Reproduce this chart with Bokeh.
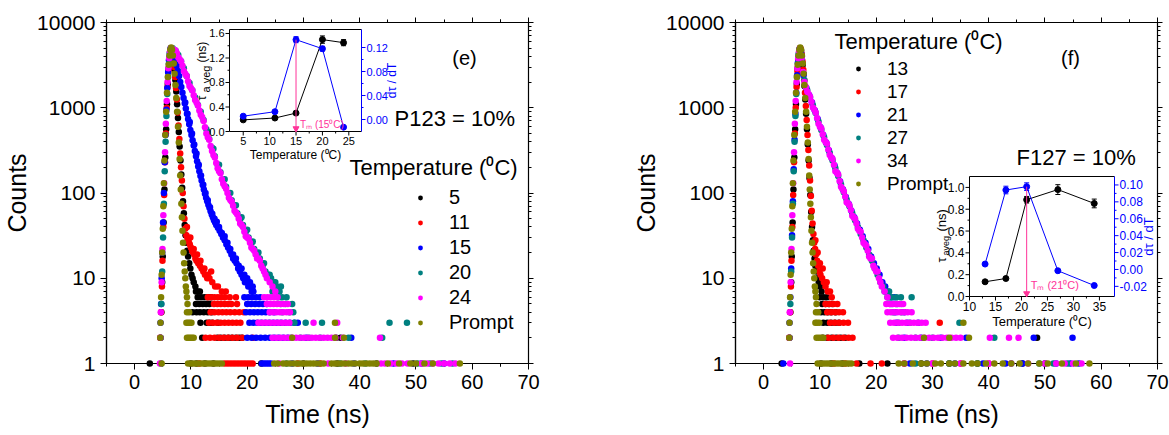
import math
from bokeh.plotting import figure
from bokeh.layouts import row
from bokeh.models import (Range1d, LinearScale, FixedTicker, PrintfTickFormatter,
                          CustomJSTickFormatter, LinearAxis, LogAxis, Legend, LegendItem,
                          Label, ColumnDataSource)
from bokeh.core.properties import value
from bokeh.embed import file_html
from bokeh.resources import INLINE

FONT = "Liberation Sans"

# ---------------- data ----------------
TIME_TICKS = [0, 10, 20, 30, 40, 50, 60, 70]
COUNT_TICKS = [1, 10, 100, 1000, 10000]
E_NAMES = ["5", "11", "15", "20", "24", "Prompt"]
F_NAMES = ["13", "17", "21", "27", "34", "Prompt"]
SERIES_COLORS = ["#000000", "#FF0000", "#0000FF", "#008080", "#FF00FF", "#808000"]

# (time ns, counts)
E_5 = [(2.7,1),(4.6,2),(4.75,4),(4.9,9),(5.0,18),(5.15,45),(5.3,110),(5.45,260),(5.6,560),(5.75,1100),(5.9,1900),(6.05,2900),(6.2,3900),(6.35,4700),(6.5,5000),(6.65,4800),(6.8,4200),(6.95,3500),(7.1,2800),(7.25,2100),(7.4,1550),(7.55,1100),(7.7,760),(7.85,520),(8.0,350),(8.15,240),(8.3,165),(8.45,115),(8.6,80),(8.75,58),(8.9,42),(9.05,32),(9.2,26),(9.35,21),(9.5,18),(9.7,15),(9.9,13),(10.1,11),(10.3,10),(10.5,9),(10.8,8),
       (10.9,7),(11.3,7),(11.6,7),(11.2,6),(11.8,6),(12.4,6),(13.0,6),(13.6,6),(10.9,5),(11.5,5),(12.1,5),(12.7,5),(13.3,5),(10.3,4),(11.0,4),(11.6,4),(12.3,4),(13.0,4),(13.7,4),(11.7,3),(12.8,3),(13.3,3),(13.8,3),(14.8,3),(12.0,2),(14.7,2),(15.3,2),(16.0,2),(16.7,2),(17.3,2),(18.0,2),(18.6,2),(19.1,2),(35.8,2),(36.6,2),
       (10.0,1),(11.0,1),(12.5,1),(14.0,1),(22.5,1),(30.0,1),(36.0,1),(43.0,1),(49.5,1)]
E_11 = [(4.55,2),(4.7,4),(4.85,8),(4.95,16),(5.1,40),(5.25,95),(5.4,230),(5.55,500),(5.7,1000),(5.85,1750),(6.0,2700),(6.15,3700),(6.3,4500),(6.45,5000),(6.6,4900),(6.75,4400),(6.9,3700),(7.05,3000),(7.2,2300),(7.35,1700),(7.5,1250),(7.65,880),(7.8,620),(7.95,430),(8.1,290),(8.25,200),(8.4,140),(8.55,100),(8.7,70),(8.85,50),(9.0,38),(9.2,32),(9.4,29),(9.6,27),(9.8,25),(10.0,23),(10.2,21),(10.4,20),(10.6,19),(10.8,17),(11.0,16),(11.3,15),(11.6,14),(11.9,13),(12.2,12),(12.5,11),(12.9,10),(13.3,10),(13.8,9),(14.3,8),(14.8,8),(15.5,7),(16.2,7),
        (9.3,40),(9.9,30),(10.5,22),(11.1,19),(11.7,16),(12.4,13),(13.0,11),(13.6,12),
        (13.0,6),(13.6,6),(14.2,6),(14.8,6),(15.4,6),(16.0,6),(16.9,6),(18.0,6),(14.1,5),(14.7,5),(15.3,5),(16.0,5),(16.6,5),(17.2,5),(18.2,5),(13.5,4),(14.2,4),(14.9,4),(15.6,4),(16.3,4),(17.0,4),(17.8,4),(18.6,4),(19.4,4),(13.2,3),(13.9,3),(14.6,3),(15.3,3),(16.0,3),(16.7,3),(17.4,3),(18.1,3),(18.8,3),(12.6,2),(13.4,2),(14.2,2),(15.0,2),(15.8,2),(16.6,2),(17.4,2),(18.2,2),(19.1,2),(21.0,2),
        (11.5,1),(16.0,1),(16.5,1),(17.0,1),(17.5,1),(18.0,1),(18.5,1),(19.0,1),(19.5,1),(20.0,1),(20.5,1),(21.0,1),(29.0,1),(33.0,1)]
E_15 = [(4.6,3),(4.7,5),(4.8,10),(4.9,20),(5.05,45),(5.2,100),(5.35,230),(5.5,480),(5.65,950),(5.8,1700),(5.95,2600),(6.1,3600),(6.25,4400),(6.4,5000),(6.55,5000),(6.7,4700),(6.9,4300),(7.1,3900),(7.3,3500),(7.5,3100),(7.7,2700),(7.9,2350),(8.1,2000),(8.3,1750),(8.5,1500),(8.7,1300),(8.9,1130),(9.1,980),(9.3,850),(9.5,740),(9.7,640),(9.9,550),(10.1,480),(10.3,415),(10.5,360),(10.7,310),(10.9,270),(11.1,235),(11.3,205),(11.5,180),(11.7,158),(11.9,140),(12.1,124),(12.3,110),(12.5,98),(12.7,88),(12.9,80),(13.1,73),(13.3,67),(13.5,61),(13.7,56),(13.9,52),(14.1,48),(14.3,45),(14.5,42),(14.8,39),(15.1,36),(15.4,33),(15.7,30),(16.0,28),(16.3,25),(16.6,23),(16.9,21),(17.2,19),(17.5,17),(17.8,16),(18.1,15),(18.4,13),(18.7,12),(19.0,11),(19.3,10),(19.6,9),(19.9,9),(20.2,8),(20.5,8),(20.8,7),(21.1,7),
        (9.0,1150),(9.4,850),(9.8,680),(10.2,500),(10.6,370),(11.0,290),(11.4,215),(11.8,160),(12.2,125),(12.6,100),(13.0,82),(13.4,68),(13.8,57),(14.2,50),(14.6,46),(15.0,40),(15.5,34),(16.0,31),(16.5,26),(17.0,22),(17.5,19),(18.0,17),(18.5,14),(19.0,13),(19.5,11),(20.0,10),(20.5,9),(21.0,8),
        (19.5,6),(20.2,6),(20.9,6),(21.6,6),(22.3,6),(20.0,5),(20.7,5),(21.4,5),(22.1,5),(22.8,5),(23.5,5),(19.8,4),(20.5,4),(21.2,4),(21.9,4),(22.6,4),(23.3,4),(24.0,4),(24.8,4),(20.4,3),(21.1,3),(21.8,3),(22.5,3),(23.2,3),(23.9,3),(24.6,3),(25.3,3),(26.0,3),(26.8,3),(27.6,3),(28.4,3),(29.0,3),(20.0,2),(20.8,2),(21.6,2),(22.4,2),(23.2,2),(24.0,2),(24.8,2),(25.6,2),(26.4,2),(27.2,2),(30.5,2),(38.5,2),
        (22.6,1),(23.0,1),(23.4,1),(23.8,1),(24.2,1),(28.0,1),(32.5,1),(39.0,1),(46.0,1),(51.0,1),(55.0,1)]
E_20 = [(4.6,2),(4.75,5),(4.9,12),(5.05,30),(5.2,75),(5.35,180),(5.5,400),(5.65,800),(5.8,1450),(5.95,2300),(6.1,3300),(6.25,4200),(6.4,4900),(6.75,5000),(7.25,4700),(7.75,4150),(8.25,3500),(8.75,2900),(9.25,2350),(9.75,1950),(10.25,1600),(10.75,1320),(11.25,1080),(11.75,900),(12.25,720),(12.75,560),(13.25,430),(13.75,340),(14.25,270),(14.75,215),(15.25,175),(15.75,140),(16.25,118),(16.75,98),(17.25,82),(17.75,70),(18.25,58),(18.75,49),(19.25,42),(19.75,35),(20.25,30),(20.75,26),(21.25,22),(21.75,19),(22.25,17),(22.75,14),(23.25,12),(23.75,11),(24.25,10),(24.75,9),(25.25,8),(25.75,7),
        (13.0,520),(14.0,330),(15.0,215),(16.0,145),(17.0,100),(18.0,72),(19.0,52),(20.0,37),(21.0,27),(22.0,20),(23.0,15),(24.0,11),(25.0,9),(26.0,8),
        (24.5,7),(25.5,7),(25.5,6),(26.2,6),(27.0,6),(26.0,5),(26.8,5),(28.0,5),(26.2,4),(27.5,4),(28.2,4),(28.4,3),(30.4,3),(33.3,3),(45.3,3),(48.4,3),(27.8,2),(29.5,2),(31.0,2),(33.0,2),(38.0,2),(44.0,2),
        (4.7,1),(27.0,1),(36.5,1),(41.0,1),(50.3,1),(52.5,1),(54.5,1),(56.5,1)]
E_24 = [(4.55,2),(4.65,4),(4.8,9),(4.95,22),(5.1,55),(5.25,130),(5.4,300),(5.55,650),(5.7,1200),(5.85,2000),(6.0,2900),(6.15,3800),(6.3,4600),(6.45,5000),(6.55,5000),(7.0,4800),(7.5,4400),(8.0,3700),(8.5,3100),(9.0,2500),(9.5,2050),(10.0,1700),(10.5,1400),(11.0,1150),(11.5,930),(12.0,780),(12.5,590),(13.0,450),(13.5,355),(14.0,280),(14.5,225),(15.0,180),(15.5,145),(16.0,120),(16.5,100),(17.0,83),(17.5,71),(18.0,59),(18.5,50),(19.0,42),(19.5,35),(20.0,30),(20.5,26),(21.0,22),(21.5,19),(22.0,17),(22.5,14),(23.0,12),(23.5,10),(24.0,9),(24.5,8),(25.0,7),
        (7.25,4700),(7.75,3900),(8.25,3500),(8.75,2700),(9.25,2350),(9.75,1800),(10.25,1600),(10.75,1230),(11.25,1060),(11.75,830),(12.25,700),(12.75,500),(13.25,420),(13.75,310),(14.25,260),(14.75,195),(15.25,170),(15.75,128),(16.25,112),(16.75,88),(17.25,79),(17.75,62),(18.25,56),(18.75,44),(19.25,40),(19.75,31),(20.25,29),(20.75,23),(21.25,21),(21.75,17),(22.25,16),(22.75,13),(23.25,11),
        (23.0,6),(23.6,6),(24.2,6),(24.8,6),(25.4,6),(23.5,5),(24.1,5),(24.7,5),(25.3,5),(25.9,5),(26.5,5),(27.2,5),(24.0,4),(24.6,4),(25.2,4),(25.8,4),(26.4,4),(27.0,4),(27.6,4),(22.0,3),(22.7,3),(23.4,3),(24.1,3),(24.8,3),(25.5,3),(26.2,3),(26.9,3),(27.5,3),(31.8,3),(36.0,3),
        (24.5,2),(25.2,2),(25.9,2),(26.6,2),(27.3,2),(28.0,2),(28.7,2),(29.4,2),(30.1,2),(30.8,2),(31.5,2),(32.2,2),(32.9,2),(33.6,2),(34.3,2),(35.0,2),(35.7,2),(37.0,2),(43.6,2),
        (4.5,1),(25.7,1),(34.4,1),(37.5,1),(43.8,1),(44.5,1),(45.5,1),(46.5,1),(47.5,1),(48.5,1),(51.0,1),(52.0,1),(53.0,1),(54.0,1),(55.0,1),(56.0,1),(57.0,1)]
E_P = [(4.55,2),(4.6,3),(4.7,6),(4.8,11),(4.9,20),(5.0,38),(5.1,70),(5.2,130),(5.3,240),(5.45,480),(5.6,900),(5.75,1500),(5.9,2300),(6.05,3200),(6.2,4100),(6.35,4800),(6.5,5100),(6.65,4800),(6.8,4100),(6.95,3300),(7.1,2500),(7.25,1850),(7.4,1300),(7.55,900),(7.7,600),(7.85,390),(8.0,250),(8.1,160),(8.2,110),(8.3,75),(8.4,52),(8.5,36),(8.6,26),(8.7,20),(8.8,15),(8.9,12),(9.0,10),(9.1,8),(9.2,7),(9.3,6),(9.4,5),
       (9.3,4),(9.7,4),(9.2,3),(9.5,3),(9.8,3),(10.1,3),(35.6,3),(9.3,2),(9.6,2),(9.9,2),(10.2,2),(10.5,2),(28.0,2),(35.6,2),(37.2,2),
       (4.8,1),(9.5,1),(10.0,1),(10.5,1),(11.0,1),(11.5,1),(12.0,1),(12.5,1),(13.0,1),(13.5,1),(14.0,1),(14.5,1),(15.0,1),(15.5,1),(24.8,1),(25.4,1),(26.4,1),(27.0,1),(27.6,1),(28.2,1),(28.8,1),(29.4,1),(30.0,1),(30.6,1),(31.2,1),(31.8,1),(32.4,1),(33.0,1),(33.6,1),(35.0,1),(35.6,1),(36.2,1),(36.8,1),(37.4,1),(38.0,1),(38.6,1),(39.2,1),(40.0,1),(40.6,1),(41.2,1),(41.8,1),(42.4,1),(43.0,1),(45.0,1),(47.0,1),(49.0,1),(50.0,1),(51.5,1),(53.0,1),(57.8,1)]

# (time ns, counts)
F_13 = [(3.2,1),(4.6,2),(4.75,4),(4.9,9),(5.0,18),(5.15,45),(5.3,110),(5.45,260),(5.6,560),(5.75,1100),(5.9,1900),(6.05,2900),(6.2,3900),(6.35,4700),(6.5,5000),(6.65,4700),(6.8,4000),(6.95,3200),(7.1,2500),(7.25,1800),(7.4,1250),(7.55,850),(7.7,560),(7.85,370),(8.0,240),(8.15,150),(8.3,95),(8.45,60),(8.6,40),(8.75,28),(8.9,21),(9.05,17),(9.2,14),(9.4,12),(9.6,10),(9.8,9),(10.0,8),(10.3,7),
        (10.0,6),(10.6,6),(11.2,6),(10.4,5),(11.0,5),(11.6,5),(12.2,5),(10.2,4),(10.8,4),(11.4,4),(12.0,4),(12.8,4),(10.6,3),(11.3,3),(12.0,3),(12.7,3),(13.4,3),(10.5,2),(11.3,2),(12.1,2),(12.9,2),(13.7,2),(14.5,2),(48.6,2),
        (10.2,1),(12.0,1),(14.0,1),(17.0,1),(22.0,1),(28.0,1),(33.0,1),(38.0,1),(46.0,1),(50.0,1)]
F_17 = [(4.55,2),(4.7,4),(4.85,8),(4.95,16),(5.1,40),(5.25,95),(5.4,230),(5.55,500),(5.7,1000),(5.85,1750),(6.0,2700),(6.15,3700),(6.3,4500),(6.45,5000),(6.6,4900),(6.75,4300),(6.9,3500),(7.05,2800),(7.2,2100),(7.35,1500),(7.5,1050),(7.65,720),(7.8,480),(7.95,320),(8.1,210),(8.25,140),(8.4,92),(8.55,62),(8.7,44),(8.85,33),(9.0,26),(9.15,22),(9.3,19),(9.5,16),(9.7,14),(9.9,12),(10.1,11),(10.4,10),(10.7,9),(11.0,8),(11.4,7),(11.8,7),(12.1,6),
        (9.2,28),(9.6,20),(10.0,15),(10.5,13),(11.2,9),
        (11.0,5),(11.7,5),(12.4,5),(13.1,5),(11.3,4),(12.0,4),(12.7,4),(13.4,4),(14.1,4),(11.8,3),(12.6,3),(13.4,3),(14.2,3),(15.0,3),(31.3,3),(11.5,2),(12.4,2),(13.3,2),(14.2,2),(15.1,2),(15.8,2),
        (12.5,1),(14.5,1),(16.5,1),(19.0,1),(21.0,1),(25.0,1),(30.0,1),(35.0,1),(40.0,1)]
F_21 = [(4.6,3),(4.75,6),(4.9,13),(5.05,32),(5.2,80),(5.35,190),(5.5,420),(5.65,850),(5.8,1500),(5.95,2400),(6.1,3400),(6.25,4300),(6.4,4900),(6.65,4400),(7.1,2400),(7.6,1700),(8.1,1400),(8.6,1150),(9.1,930),(9.6,740),(10.1,590),(10.6,480),(11.1,390),(11.6,315),(12.1,258),(12.6,210),(13.1,170),(13.6,136),(14.1,110),(14.6,90),(15.1,75),(15.6,62),(16.1,52),(16.6,44),(17.1,37),(17.6,31),(18.1,26),(18.6,22),(19.1,18),(19.6,15),(20.1,13),(20.6,11),(21.1,9),(21.6,8),(22.1,7),(22.6,6),
        (23.2,6),(22.8,5),(23.8,5),(23.4,4),(25.0,4),(23.6,3),(25.5,3),(27.5,3),(25.0,2),(28.0,2),(31.5,2),(36.0,2),(48.0,2),(54.9,2),
        (3.5,1),(26.0,1),(29.0,1),(34.0,1),(39.0,1),(43.0,1),(46.0,1),(52.0,1),(54.5,1),(56.0,1)]
F_27 = [(4.6,2),(4.75,5),(4.9,12),(5.05,30),(5.2,75),(5.35,180),(5.5,400),(5.65,800),(5.8,1450),(5.95,2300),(6.1,3300),(6.25,4200),(6.4,4900),(6.8,3700),(7.25,2100),(7.75,1600),(8.25,1320),(8.75,1070),(9.25,870),(9.75,690),(10.25,550),(10.75,450),(11.25,365),(11.75,295),(12.25,240),(12.75,195),(13.25,158),(13.75,126),(14.25,102),(14.75,84),(15.25,70),(15.75,58),(16.25,48),(16.75,40),(17.25,33),(17.75,28),(18.25,23),(18.75,19),(19.25,16),(19.75,13),(20.25,11),(20.75,9),(21.25,8),(21.75,7),(22.25,6),
        (21.5,7),(22.3,7),(22.0,6),(22.8,6),(23.6,6),(24.4,6),(26.3,6),(22.5,5),(23.5,5),(24.5,5),(23.0,4),(24.5,4),(24.0,3),(26.0,3),(34.8,3),(24.0,2),(27.0,2),(30.0,2),(41.0,2),
        (27.0,1),(33.0,1),(38.0,1),(44.0,1),(49.0,1),(51.5,1),(54.0,1)]
F_34 = [(4.55,2),(4.65,4),(4.8,9),(4.95,22),(5.1,55),(5.25,130),(5.4,300),(5.55,650),(5.7,1200),(5.85,2000),(6.0,2900),(6.15,3800),(6.3,4600),(6.45,5000),(6.55,4900),(6.75,3800),(7.0,2630),(7.5,1750),(8.0,1445),(8.5,1175),(9.0,955),(9.5,760),(10.0,600),(10.5,490),(11.0,400),(11.5,324),(12.0,263),(12.5,214),(13.0,174),(13.5,138),(14.0,112),(14.5,91),(15.0,76),(15.5,63),(16.0,52),(16.5,44),(17.0,36),(17.5,30),(18.0,25),(18.5,21),(19.0,17),(19.5,14),(20.0,12),(20.5,10),(21.0,8),(21.5,7),(22.0,6),
        (7.25,2000),(7.75,1550),(8.25,1350),(8.75,1010),(9.25,880),(9.75,650),(10.25,570),(10.75,420),(11.25,380),(11.75,280),(12.25,250),(12.75,180),(13.25,165),(13.75,118),(14.25,105),(14.75,78),(15.25,72),(15.75,54),(16.25,50),(16.75,38),(17.25,35),(17.75,26),(18.25,24),(18.75,18),(19.25,17),(19.75,13),(20.25,12),(20.75,9),
        (21.8,5),(22.4,5),(23.0,5),(23.6,5),(24.2,5),(24.8,5),(22.0,4),(22.6,4),(23.2,4),(23.8,4),(24.4,4),(25.0,4),(25.6,4),(26.3,4),(22.5,3),(23.2,3),(23.9,3),(24.6,3),(25.3,3),(26.0,3),(26.7,3),(27.4,3),(28.1,3),(28.8,3),
        (23.0,2),(23.8,2),(24.6,2),(25.4,2),(26.2,2),(27.0,2),(27.8,2),(28.6,2),(29.4,2),(30.2,2),(31.0,2),(31.8,2),(32.6,2),(33.4,2),(34.2,2),(35.0,2),(40.2,2),(43.6,2),(45.3,2),
        (4.7,1),(25.0,1),(30.0,1),(35.0,1),(40.0,1),(44.0,1),(47.0,1),(50.0,1),(52.0,1),(53.5,1),(55.0,1),(56.5,1)]
F_P = [(4.55,2),(4.6,3),(4.7,6),(4.8,11),(4.9,20),(5.0,38),(5.1,70),(5.2,130),(5.3,240),(5.45,480),(5.6,900),(5.75,1500),(5.9,2300),(6.05,3200),(6.2,4100),(6.35,4800),(6.5,5100),(6.65,4800),(6.8,4100),(6.95,3300),(7.1,2500),(7.25,1850),(7.4,1300),(7.55,900),(7.7,600),(7.85,390),(8.0,250),(8.1,160),(8.2,110),(8.3,75),(8.4,52),(8.5,36),(8.6,26),(8.7,20),(8.8,15),(8.9,12),(9.0,10),(9.1,8),(9.2,7),(9.3,6),(9.4,5),
       (9.3,4),(9.7,4),(9.2,3),(9.5,3),(9.9,3),(35.5,3),(9.4,2),(9.8,2),(10.2,2),(10.6,2),(28.5,2),(33.0,2),(36.5,2),
       (9.6,1),(10.1,1),(10.6,1),(11.1,1),(11.6,1),(12.1,1),(12.6,1),(13.1,1),(13.6,1),(14.1,1),(14.6,1),(15.1,1),(15.6,1),(24.0,1),(25.0,1),(26.5,1),(28.0,1),(29.0,1),(30.5,1),(31.5,1),(33.0,1),(34.0,1),(35.5,1),(37.0,1),(38.0,1),(39.5,1),(41.0,1),(42.5,1),(44.0,1),(45.5,1),(47.0,1),(49.0,1),(50.5,1),(53.0,1),(55.5,1),(57.9,1)]

# insets
E_INS_T = [5, 11, 15, 20, 24]
E_INS_TAU = [0.19, 0.22, 0.30, 1.50, 1.45]
E_INS_TAU_ERR = [0.02, 0.02, 0.02, 0.06, 0.05]
E_INS_DTDT = [0.0055, 0.013, 0.133, 0.118, -0.0128]
E_INS_DTDT_ERR = [0.0, 0.0, 0.005, 0.004, 0.0]
E_TM = 15
E_INS_XTICKS = [5, 10, 15, 20, 25]
E_INS_XLABELS = ["5", "10", "15", "20", "25"]
E_INS_YL_TICKS = [0.0, 0.4, 0.8, 1.2, 1.6]
E_INS_YL_LABELS = ["0.0", "0.4", "0.8", "1.2", "1.6"]
E_INS_YR_TICKS = [0.0, 0.04, 0.08, 0.12]
E_INS_YR_LABELS = ["0.00", "0.04", "0.08", "0.12"]

F_INS_T = [13, 17, 21, 27, 34]
F_INS_TAU = [0.135, 0.165, 0.887, 0.98, 0.853]
F_INS_TAU_ERR = [0.01, 0.01, 0.03, 0.045, 0.04]
F_INS_DTDT = [0.0064, 0.094, 0.098, -0.0015, -0.019]
F_INS_DTDT_ERR = [0.0, 0.0045, 0.0045, 0.0, 0.0]
F_TM = 21
F_INS_XTICKS = [10, 15, 20, 25, 30, 35]
F_INS_XLABELS = ["10", "15", "20", "25", "30", "35"]
F_INS_YL_TICKS = [0.0, 0.2, 0.4, 0.6, 0.8, 1.0]
F_INS_YL_LABELS = ["0.0", "0.2", "0.4", "0.6", "0.8", "1.0"]
F_INS_YR_TICKS = [-0.02, 0.0, 0.02, 0.04, 0.06, 0.08, 0.10]
F_INS_YR_LABELS = ["-0.02", "0.00", "0.02", "0.04", "0.06", "0.08", "0.10"]

# ---------------- layout / style ----------------
FRAME_W, FRAME_H = 422, 341
PINK = "#FF3399"


def add_inset(p, ins):
    bx0, bx1, by0, by1 = ins["box"]
    x0, x1 = ins["xr"]
    l0, l1 = ins["ylr"]
    r0, r1 = ins["yrr"]

    def ext(lo, hi, a, b, n):
        s = (hi - lo) / (b - a)
        return Range1d(start=lo - a * s, end=hi + (n - b) * s)

    p.extra_x_ranges = {"ix": ext(x0, x1, bx0, bx1, FRAME_W)}
    p.extra_x_scales = {"ix": LinearScale()}
    p.extra_y_ranges = {"il": ext(l0, l1, by0, by1, FRAME_H), "ir": ext(r0, r1, by0, by1, FRAME_H)}
    p.extra_y_scales = {"il": LinearScale(), "ir": LinearScale()}
    ux = (x1 - x0) / (bx1 - bx0)
    ul = (l1 - l0) / (by1 - by0)
    ur = (r1 - r0) / (by1 - by0)
    L = dict(x_range_name="ix", y_range_name="il", level="overlay")
    R = dict(x_range_name="ix", y_range_name="ir", level="overlay")
    fs = ins["fs"]
    tf = value(FONT)

    p.quad(left=[x0], right=[x1], bottom=[l0], top=[l1], fill_color="white", line_color=None, **L)
    p.multi_line(xs=[[x0, x1], [x0, x0], [x0, x1]], ys=[[l0, l0], [l0, l1], [l1, l1]],
                 line_color="black", line_width=1, **L)
    p.segment(x0=[x1], y0=[l0], x1=[x1], y1=[l1], line_color="blue", line_width=1, **L)

    xt = ins["xticks"]
    n = len(xt)
    xm = [(a + b) / 2 for a, b in zip(xt[:-1], xt[1:])]
    p.segment(x0=xt, x1=xt, y0=[l0] * n, y1=[l0 - 4 * ul] * n, line_color="black", **L)
    p.segment(x0=xm, x1=xm, y0=[l0] * len(xm), y1=[l0 - 2 * ul] * len(xm), line_color="black", **L)
    p.text(x=xt, y=[l0] * n, text=ins["xlabels"], y_offset=5, text_align="center", text_baseline="top",
           text_font=tf, text_font_size=fs, text_color="black", **L)

    yt = ins["ylticks"]
    m = len(yt)
    ym = [(a + b) / 2 for a, b in zip(yt[:-1], yt[1:])]
    p.segment(x0=[x0] * m, x1=[x0 - 4 * ux] * m, y0=yt, y1=yt, line_color="black", **L)
    p.segment(x0=[x0] * len(ym), x1=[x0 - 2 * ux] * len(ym), y0=ym, y1=ym, line_color="black", **L)
    p.text(x=[x0] * m, y=yt, text=ins["yllabels"], x_offset=-5, text_align="right", text_baseline="middle",
           text_font=tf, text_font_size=fs, text_color="black", **L)

    rt = ins["yrticks"]
    k = len(rt)
    rm = [(a + b) / 2 for a, b in zip(rt[:-1], rt[1:])]
    p.segment(x0=[x1] * k, x1=[x1 + 4 * ux] * k, y0=rt, y1=rt, line_color="blue", **R)
    p.segment(x0=[x1] * len(rm), x1=[x1 + 2 * ux] * len(rm), y0=rm, y1=rm, line_color="blue", **R)
    p.text(x=[x1] * k, y=rt, text=ins["yrlabels"], x_offset=5, text_align="left", text_baseline="middle",
           text_font=tf, text_font_size=fs, text_color="blue", **R)

    # axis titles
    p.text(x=[(x0 + x1) / 2], y=[l0], text=["Temperature (\u2070C)"], y_offset=ins["xlab_off"],
           text_align="center", text_baseline="top", text_font=tf, text_font_size=ins["lab_fs"],
           text_color="black", **L)
    lx, ly = ins["ylab_off"]
    o_sub, o_ns = ins["ylab_steps"]
    yc = (l0 + l1) / 2
    p.text(x=[x0, x0], y=[yc, yc], text=["\u03c4", "(ns)"], x_offset=[lx, lx], y_offset=[ly, ly - o_ns],
           angle=math.pi / 2, text_align="left", text_baseline="middle", text_font=tf,
           text_font_size=ins["lab_fs"], text_color="black", **L)
    p.text(x=[x0], y=[yc], text=[ins["sub"]], x_offset=[lx + 4], y_offset=[ly - o_sub],
           angle=math.pi / 2, text_align="left", text_baseline="middle", text_font=tf,
           text_font_size=ins["sub_fs"], text_color="black", **L)
    p.text(x=[x1], y=[(r0 + r1) / 2], text=["d\u03c4 / dT"], x_offset=ins["yrlab_off"], angle=math.pi / 2,
           text_align="center", text_baseline="middle", text_font=tf, text_font_size=ins["lab_fs"],
           text_color="blue", **R)

    # data
    T = ins["T"]
    tau, terr = ins["tau"], ins["tau_err"]
    lo_t = [a - e for a, e in zip(tau, terr)]
    hi_t = [a + e for a, e in zip(tau, terr)]
    p.line(T, tau, line_color="black", line_width=1, **L)
    p.segment(x0=T, x1=T, y0=lo_t, y1=hi_t, line_color="black", **L)
    p.scatter(T + T, lo_t + hi_t, marker="dash", size=5, line_color="black", **L)
    p.scatter(T, tau, size=6, fill_color="black", line_color="black", **L)

    d, derr = ins["dtdt"], ins["dtdt_err"]
    lo_d = [a - e for a, e in zip(d, derr)]
    hi_d = [a + e for a, e in zip(d, derr)]
    p.line(T, d, line_color="blue", line_width=1, **R)
    p.segment(x0=T, x1=T, y0=lo_d, y1=hi_d, line_color="blue", **R)
    p.scatter(T + T, lo_d + hi_d, marker="dash", size=5, line_color="blue", **R)
    p.scatter(T, d, size=6, fill_color="blue", line_color="blue", **R)

    # T_m marker
    tm = ins["tm"]
    dtm = d[T.index(tm)]
    p.segment(x0=[tm], x1=[tm], y0=[dtm], y1=[r0 + 3 * ur], line_color=PINK, line_width=1, **R)
    p.scatter([tm], [r0 + 3 * ur], marker="inverted_triangle", size=6, fill_color=PINK, line_color=PINK, **R)
    p.text(x=[tm], y=[r0], text=["T\u2098 (%d\u2070C)" % tm], x_offset=4, y_offset=ins["tm_yoff"],
           text_align="left", text_baseline="bottom", text_font=tf, text_font_size=ins["tm_fs"],
           text_color=PINK, **R)


def make_panel(series, names, b_left, b_right, leg, title_xy, notes, ins):
    p = figure(x_range=Range1d(-5, 70), y_range=Range1d(1, 10000), y_axis_type="log",
               frame_width=FRAME_W, frame_height=FRAME_H,
               min_border_left=b_left, min_border_right=b_right, min_border_top=22, min_border_bottom=72,
               output_backend="svg", toolbar_location=None)
    p.xgrid.visible = False
    p.ygrid.visible = False
    p.outline_line_color = "black"
    p.outline_line_width = 1.2
    p.background_fill_color = "white"

    x_minor = [t - 5 for t in TIME_TICKS] + [TIME_TICKS[-1] - 5]
    y_minor = [m * d for d in COUNT_TICKS[:-1] for m in range(2, 10)]

    xa = p.xaxis[0]
    xa.ticker = FixedTicker(ticks=TIME_TICKS, minor_ticks=x_minor)
    xa.axis_label = "Time (ns)"
    ya = p.yaxis[0]
    ya.ticker = FixedTicker(ticks=COUNT_TICKS, minor_ticks=y_minor)
    ya.formatter = PrintfTickFormatter(format="%d")
    ya.axis_label = "Counts"
    for ax, fsz in ((xa, "20px"), (ya, "21px")):
        ax.axis_label_text_font = FONT
        ax.axis_label_text_font_size = "25px"
        ax.axis_label_text_font_style = "normal"
        ax.axis_label_text_color = "black"
        ax.major_label_text_font = FONT
        ax.major_label_text_font_size = fsz
        ax.major_label_text_color = "black"
        ax.axis_line_color = "black"
        ax.axis_line_width = 1.2
        ax.major_tick_out = 6
        ax.major_tick_in = 0
        ax.minor_tick_out = 3
        ax.minor_tick_in = 0
        ax.major_label_standoff = 5
    xa.axis_label_standoff = 8
    ya.axis_label_standoff = 3

    blank = CustomJSTickFormatter(code="return ''")
    top = LinearAxis(ticker=FixedTicker(ticks=TIME_TICKS, minor_ticks=x_minor), formatter=blank,
                     major_tick_out=5, major_tick_in=0, minor_tick_out=3, minor_tick_in=0,
                     major_label_standoff=0, axis_line_color="black")
    p.add_layout(top, "above")
    right = LogAxis(ticker=FixedTicker(ticks=COUNT_TICKS, minor_ticks=y_minor), formatter=blank,
                    major_tick_out=5, major_tick_in=0, minor_tick_out=3, minor_tick_in=0,
                    major_label_standoff=0, axis_line_color="black")
    p.add_layout(right, "right")

    rends = []
    for pts, col in zip(series, SERIES_COLORS):
        src = ColumnDataSource(data=dict(t=[q[0] for q in pts], c=[q[1] for q in pts]))
        r = p.scatter("t", "c", source=src, size=6.5, fill_color=col, line_color=None, level="overlay")
        rends.append(r)

    legend = Legend(items=[LegendItem(label=nm, renderers=[r]) for nm, r in zip(names, rends)],
                    location=leg["loc"], orientation="vertical",
                    border_line_color=None, background_fill_alpha=0,
                    label_text_font=FONT, label_text_font_size=leg["fs"], label_text_color="black",
                    glyph_width=12, glyph_height=leg["row"], label_height=leg["row"], spacing=0,
                    padding=0, margin=0, label_standoff=leg["standoff"])
    p.add_layout(legend)

    p.add_layout(Label(x=title_xy[0], y=title_xy[1], x_units="screen", y_units="screen",
                       text="Temperature (\u2070C)", text_font=FONT, text_font_size="22px",
                       text_baseline="middle", text_align="left", text_color="black"))
    for (tx, ty, txt, fsz, al) in notes:
        p.add_layout(Label(x=tx, y=ty, x_units="screen", y_units="screen", text=txt, text_font=FONT,
                           text_font_size=fsz, text_baseline="middle", text_align=al, text_color="black"))

    add_inset(p, ins)
    return p


pe = make_panel(
    [E_5, E_11, E_15, E_20, E_24, E_P], E_NAMES, 105, 73,
    dict(loc=(308, 28), row=25, fs="20px", standoff=23),
    (243, 196),
    [(358, 306, "(e)", "20px", "center"), (288, 245, "P123 = 10%", "22px", "left")],
    dict(box=(123, 255, 232, 334), xr=(2.4, 27.4), ylr=(0.0, 1.665), yrr=(-0.02, 0.15),
         xticks=E_INS_XTICKS, xlabels=E_INS_XLABELS, ylticks=E_INS_YL_TICKS, yllabels=E_INS_YL_LABELS,
         yrticks=E_INS_YR_TICKS, yrlabels=E_INS_YR_LABELS, fs="11px", lab_fs="12px", sub_fs="11px",
         sub="a veg", ylab_steps=(8, 38),
         xlab_off=16, ylab_off=(-28, 20), yrlab_off=30,
         T=E_INS_T, tau=E_INS_TAU, tau_err=E_INS_TAU_ERR, dtdt=E_INS_DTDT, dtdt_err=E_INS_DTDT_ERR,
         tm=E_TM, tm_yoff=-2, tm_fs="10px"))

pf = make_panel(
    [F_13, F_17, F_21, F_27, F_34, F_P], F_NAMES, 134, 13,
    dict(loc=(117, 168), row=23, fs="19px", standoff=23),
    (99, 322),
    [(335, 306, "(f)", "20px", "center"), (281, 206, "F127 = 10%", "22px", "left")],
    dict(box=(234, 379, 67, 187), xr=(10.0, 37.9), ylr=(0.0, 1.1), yrr=(-0.032, 0.11),
         xticks=F_INS_XTICKS, xlabels=F_INS_XLABELS, ylticks=F_INS_YL_TICKS, yllabels=F_INS_YL_LABELS,
         yrticks=F_INS_YR_TICKS, yrlabels=F_INS_YR_LABELS, fs="12px", lab_fs="13px", sub_fs="9px",
         sub="aveg", ylab_steps=(7, 31),
         xlab_off=17, ylab_off=(-28, 26), yrlab_off=34,
         T=F_INS_T, tau=F_INS_TAU, tau_err=F_INS_TAU_ERR, dtdt=F_INS_DTDT, dtdt_err=F_INS_DTDT_ERR,
         tm=F_TM, tm_yoff=-6, tm_fs="11px"))

layout = row(pe, pf)
open("out.html", "w").write(file_html(layout, INLINE))
